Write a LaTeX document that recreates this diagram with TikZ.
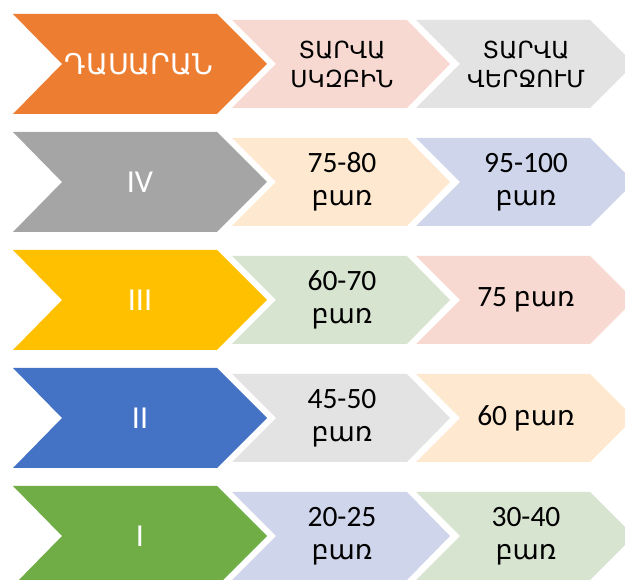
\documentclass[tikz,border=0pt]{standalone}
\usepackage{fontspec}
\setmainfont{Carlito}
\newfontfamily\armfont{DejaVu Sans}
\newcommand\arm{\armfont\fontsize{27}{33}\selectfont}
\definecolor{gradeorange}{HTML}{ED7D31}
\definecolor{gradegray}{HTML}{A5A5A5}
\definecolor{gradegold}{HTML}{FFC000}
\definecolor{gradeblue}{HTML}{4472C4}
\definecolor{gradegreen}{HTML}{70AD47}
\definecolor{lightpink}{HTML}{F8D9D1}
\definecolor{lightgray}{HTML}{E3E3E3}
\definecolor{lightpeach}{HTML}{FEE8CF}
\definecolor{lightlav}{HTML}{CFD5EA}
\definecolor{lightgreen}{HTML}{D7E4D0}

\begin{document}
\begin{tikzpicture}[x=1pt,y=-1pt,
	grade/.style={text=white,font=\fontsize{32}{36}\selectfont},
	amount/.style={text=black,align=center,font=\fontsize{29.5}{33}\selectfont},
	head/.style={align=center,font=\armfont\fontsize{23.5}{29}\selectfont}]
	\useasboundingbox (0,0) rectangle (625,580);
	\clip (0,0) rectangle (625,580);
	% chevrons, one row each
	\foreach \r/\big/\fillA/\fillB in {0/gradeorange/lightpink/lightgray,
		1/gradegray/lightpeach/lightlav,2/gradegold/lightgreen/lightpink,
		3/gradeblue/lightgray/lightpeach,4/gradegreen/lightlav/lightgreen}
	{
		\pgfmathsetmacro\t{14+118*\r}
		\fill[\big] (13,\t) -- (217,\t) -- (267,\t+50) -- (217,\t+100) -- (13,\t+100) -- (62,\t+50) -- cycle;
		\fill[\fillA] (232,\t+6) -- (407,\t+6) -- (450,\t+50) -- (407,\t+94) -- (232,\t+94) -- (276,\t+50) -- cycle;
		\fill[\fillB] (416,\t+6) -- (590,\t+6) -- (634,\t+50) -- (590,\t+94) -- (416,\t+94) -- (460,\t+50) -- cycle;
	}
	% header row
	\node[text=white,font=\armfont\fontsize{28.5}{30}\selectfont] (class) at (139,64) {ԴԱՍԱՐԱՆ};
	\node[head] (start) at (342,64) {ՏԱՐՎԱ\\ՍԿԶԲԻՆ};
	\node[head] (end) at (526,64) {ՏԱՐՎԱ\\ՎԵՐՋՈՒՄ};
	% grades
	\foreach \r/\g/\a/\b in {1/IV/{75-80\\\arm բառ}/{95-100\\\arm բառ},
		2/III/{60-70\\\arm բառ}/{75 {\arm բառ}},
		3/II/{45-50\\\arm բառ}/{60 {\arm բառ}},
		4/I/{20-25\\\arm բառ}/{30-40\\\arm բառ}}
	{
		\pgfmathsetmacro\t{64+118*\r}
		\node[grade] (grade\r) at (140,\t) {\g};
		\node[amount] (start\r) at (342,\t) {\a};
		\node[amount] (end\r) at (526,\t) {\b};
	}
\end{tikzpicture}
\end{document}
